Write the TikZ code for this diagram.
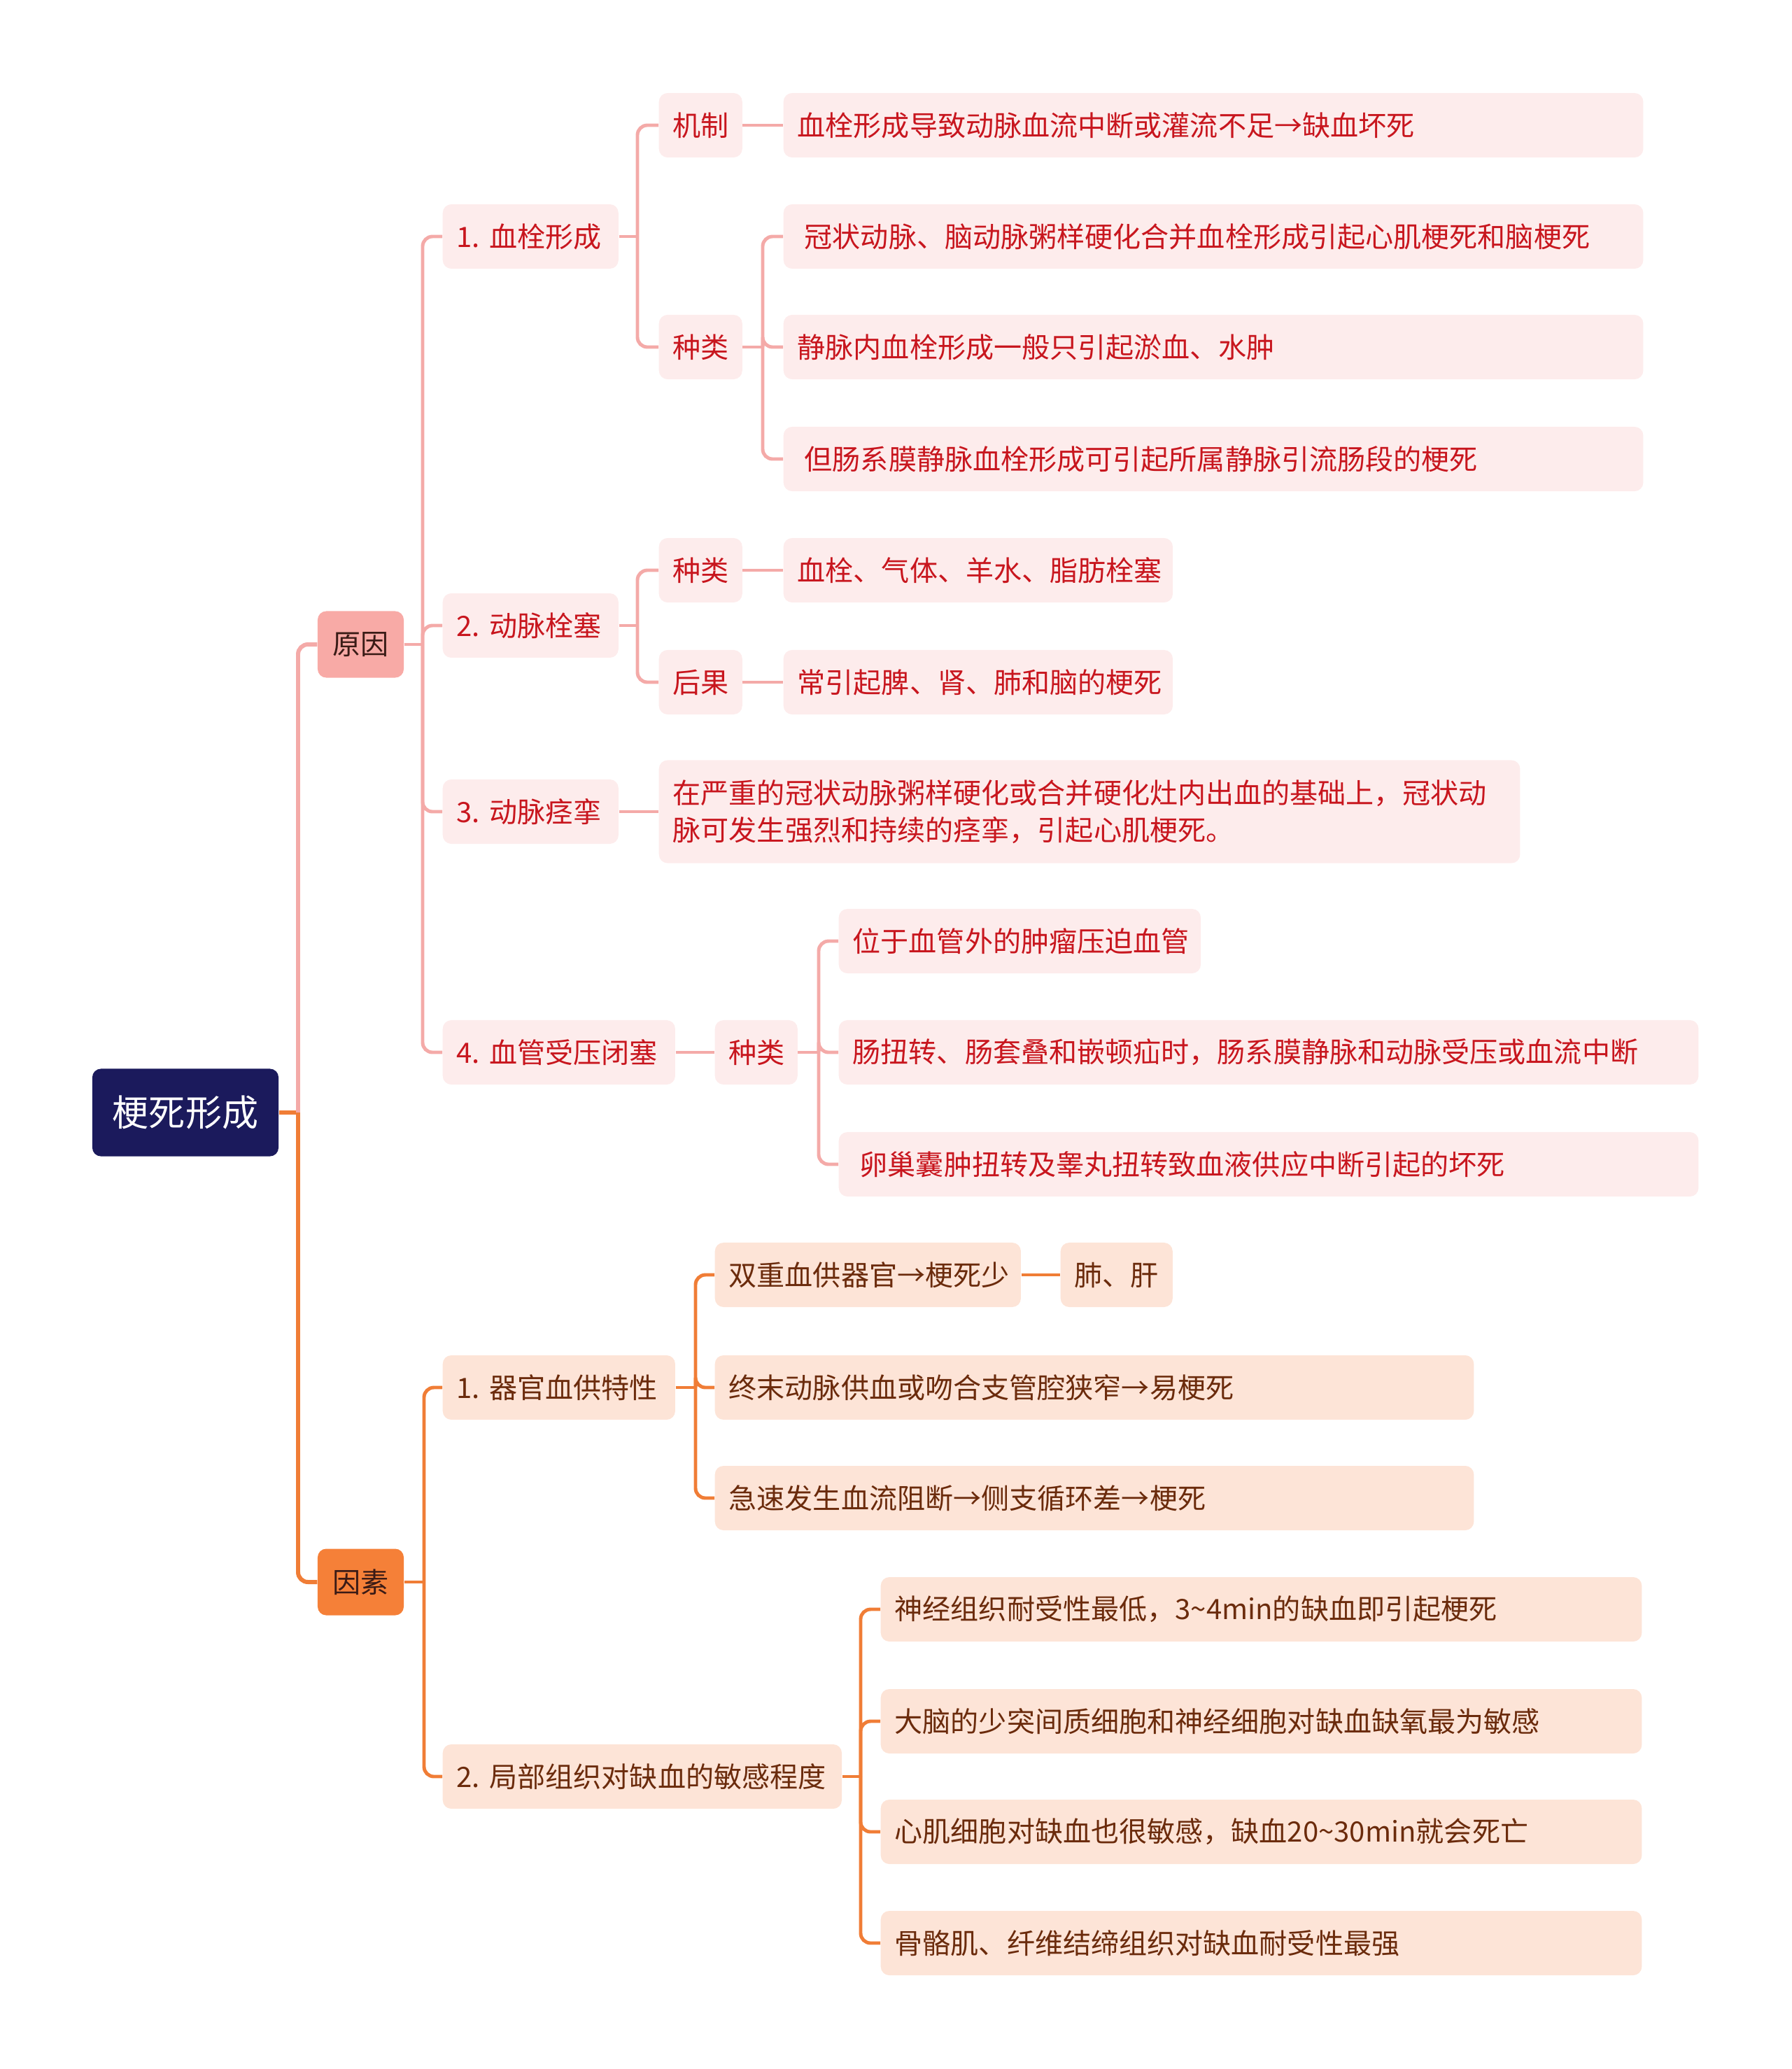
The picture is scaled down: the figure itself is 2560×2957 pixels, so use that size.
\documentclass[tikz,border=0pt]{standalone}
\usepackage{fontspec}
\setmainfont{Noto Sans CJK SC}
\usetikzlibrary{positioning,calc}
\definecolor{infNavyFill}{HTML}{1B1A5C}
\definecolor{infHeadText}{HTML}{3A1B16}
\definecolor{infPinkHead}{HTML}{F8AAA6}
\definecolor{infPinkLine}{HTML}{F4AAA8}
\definecolor{infPinkFill}{HTML}{FDECEC}
\definecolor{infPinkText}{HTML}{C8161E}
\definecolor{infOrangeHead}{HTML}{F58038}
\definecolor{infOrangeLine}{HTML}{F07D36}
\definecolor{infOrangeFill}{HTML}{FDE4D7}
\definecolor{infOrangeText}{HTML}{6B2B0C}

\begin{document}
\begin{tikzpicture}[x=0.01cm, y=-0.01cm,
  rootbox/.style={fill=infNavyFill, text=white, rounded corners=3.5pt,
    minimum width=2.66cm, minimum height=1.25cm, inner sep=0pt,
    font=\fontsize{14.8}{18}\selectfont},
  headbox/.style={fill=#1, text=infHeadText, rounded corners=3.5pt,
    minimum width=1.23cm, minimum height=0.95cm, inner sep=0pt,
    font=\fontsize{11.4}{15}\selectfont},
  pbox/.style={anchor=west, fill=infPinkFill, text=infPinkText,
    rounded corners=3.5pt, inner xsep=0.2cm, inner ysep=0pt,
    minimum height=0.92cm, align=left, text width=#1,
    font=\fontsize{11.4}{15}\selectfont},
  obox/.style={pbox=#1, fill=infOrangeFill, text=infOrangeText},
  plink/.style={draw=infPinkLine, line width=1.4pt, rounded corners=4pt},
  olink/.style={draw=infOrangeLine, line width=1.4pt, rounded corners=4pt}
]

\useasboundingbox (0,0) rectangle (2560,2957);

%% ROOT AND MAIN HEADS
\node[rootbox] (root) at (265,1590) {梗死形成};
\node[headbox=infPinkHead] (cause) at (515.5,921) {原因};
\node[headbox=infOrangeHead] (factor) at (515.5,2261) {因素};

\coordinate (t0) at (426,1590);
\draw[olink, line width=1.7pt] (root.east) -- (t0);
\draw[plink, line width=1.7pt] (t0) |- (cause.west);
\draw[olink, line width=1.7pt] (t0) |- (factor.west);

%% ---------------- CAUSES (pink) ----------------
\node[pbox=2.11cm] (c1) at (632,338)  {1.~血栓形成};
\node[pbox=2.11cm] (c2) at (632,894)  {2.~动脉栓塞};
\node[pbox=2.11cm] (c3) at (632,1160) {3.~动脉痉挛};
\node[pbox=2.92cm] (c4) at (632,1504) {4.~血管受压闭塞};

\coordinate (tc) at (604,921);
\draw[plink] (cause.east) -- (tc);
\foreach \n in {c1,c2,c3,c4}
  \draw[plink] (tc) |- (\n.west);

% --- 1. thrombosis ---
\node[pbox=0.79cm] (c1m) at (941,179) {机制};
\node[pbox=0.79cm] (c1k) at (941,496) {种类};
\node[pbox=11.88cm] (c1m1) at (1119,179) {血栓形成导致动脉血流中断或灌流不足→缺血坏死};
\node[pbox=11.88cm] (c1k1) at (1119,338) {\hspace{0.1cm}冠状动脉、脑动脉粥样硬化合并血栓形成引起心肌梗死和脑梗死};
\node[pbox=11.88cm] (c1k2) at (1119,496) {静脉内血栓形成一般只引起淤血、水肿};
\node[pbox=11.88cm] (c1k3) at (1119,656) {\hspace{0.1cm}但肠系膜静脉血栓形成可引起所属静脉引流肠段的梗死};

\coordinate (tc1) at (911,338);
\draw[plink] (c1.east) -- (tc1);
\foreach \n in {c1m,c1k}
  \draw[plink] (tc1) |- (\n.west);
\draw[plink] (c1m.east) -- (c1m1.west);
\coordinate (tc1k) at (1090,496);
\draw[plink] (c1k.east) -- (tc1k);
\foreach \n in {c1k1,c1k2,c1k3}
  \draw[plink] (tc1k) |- (\n.west);

% --- 2. embolism ---
\node[pbox=0.79cm] (c2k) at (941,815) {种类};
\node[pbox=0.79cm] (c2h) at (941,975) {后果};
\node[pbox=5.16cm] (c2k1) at (1119,815) {血栓、气体、羊水、脂肪栓塞};
\node[pbox=5.16cm] (c2h1) at (1119,975) {常引起脾、肾、肺和脑的梗死};

\coordinate (tc2) at (911,894);
\draw[plink] (c2.east) -- (tc2);
\foreach \n in {c2k,c2h}
  \draw[plink] (tc2) |- (\n.west);
\draw[plink] (c2k.east) -- (c2k1.west);
\draw[plink] (c2h.east) -- (c2h1.west);

% --- 3. spasm ---
\node[pbox=11.9cm, minimum height=1.47cm] (c3t) at (941,1160)
  {在严重的冠状动脉粥样硬化或合并硬化灶内出血的基础上，冠状动\\脉可发生强烈和持续的痉挛，引起心肌梗死。};
\draw[plink] (c3.east) -- (c3t.west);

% --- 4. compression ---
\node[pbox=0.78cm] (c4k) at (1021,1504) {种类};
\node[pbox=4.77cm] (c4k1) at (1198,1345) {位于血管外的肿瘤压迫血管};
\node[pbox=11.88cm] (c4k2) at (1198,1504) {肠扭转、肠套叠和嵌顿疝时，肠系膜静脉和动脉受压或血流中断};
\node[pbox=11.88cm] (c4k3) at (1198,1664) {\hspace{0.1cm}卵巢囊肿扭转及睾丸扭转致血液供应中断引起的坏死};

\draw[plink] (c4.east) -- (c4k.west);
\coordinate (tc4k) at (1170,1504);
\draw[plink] (c4k.east) -- (tc4k);
\foreach \n in {c4k1,c4k2,c4k3}
  \draw[plink] (tc4k) |- (\n.west);

%% ---------------- FACTORS (orange) ----------------
\node[obox=2.92cm] (f1) at (632,1983) {1.~器官血供特性};
\node[obox=5.30cm] (f2) at (632,2539) {2.~局部组织对缺血的敏感程度};

\coordinate (tf) at (606,2261);
\draw[olink] (factor.east) -- (tf);
\foreach \n in {f1,f2}
  \draw[olink] (tf) |- (\n.west);

% --- 1. blood supply ---
\node[obox=3.97cm] (f1a) at (1021,1822) {双重血供器官→梗死少};
\node[obox=1.20cm] (f1a1) at (1515,1822) {肺、肝};
\node[obox=10.44cm] (f1b) at (1021,1983) {终末动脉供血或吻合支管腔狭窄→易梗死};
\node[obox=10.44cm] (f1c) at (1021,2141) {急速发生血流阻断→侧支循环差→梗死};

\coordinate (tf1) at (994,1983);
\draw[olink] (f1.east) -- (tf1);
\foreach \n in {f1a,f1b,f1c}
  \draw[olink] (tf1) |- (\n.west);
\draw[olink] (f1a.east) -- (f1a1.west);

% --- 2. sensitivity ---
\node[obox=10.47cm] (f2a) at (1258,2300) {神经组织耐受性最低，3\textasciitilde4min的缺血即引起梗死};
\node[obox=10.47cm] (f2b) at (1258,2460) {大脑的少突间质细胞和神经细胞对缺血缺氧最为敏感};
\node[obox=10.47cm] (f2c) at (1258,2618) {心肌细胞对缺血也很敏感，缺血20\textasciitilde30min就会死亡};
\node[obox=10.47cm] (f2d) at (1258,2777) {骨骼肌、纤维结缔组织对缺血耐受性最强};

\coordinate (tf2) at (1230,2539);
\draw[olink] (f2.east) -- (tf2);
\foreach \n in {f2a,f2b,f2c,f2d}
  \draw[olink] (tf2) |- (\n.west);

\end{tikzpicture}
\end{document}
